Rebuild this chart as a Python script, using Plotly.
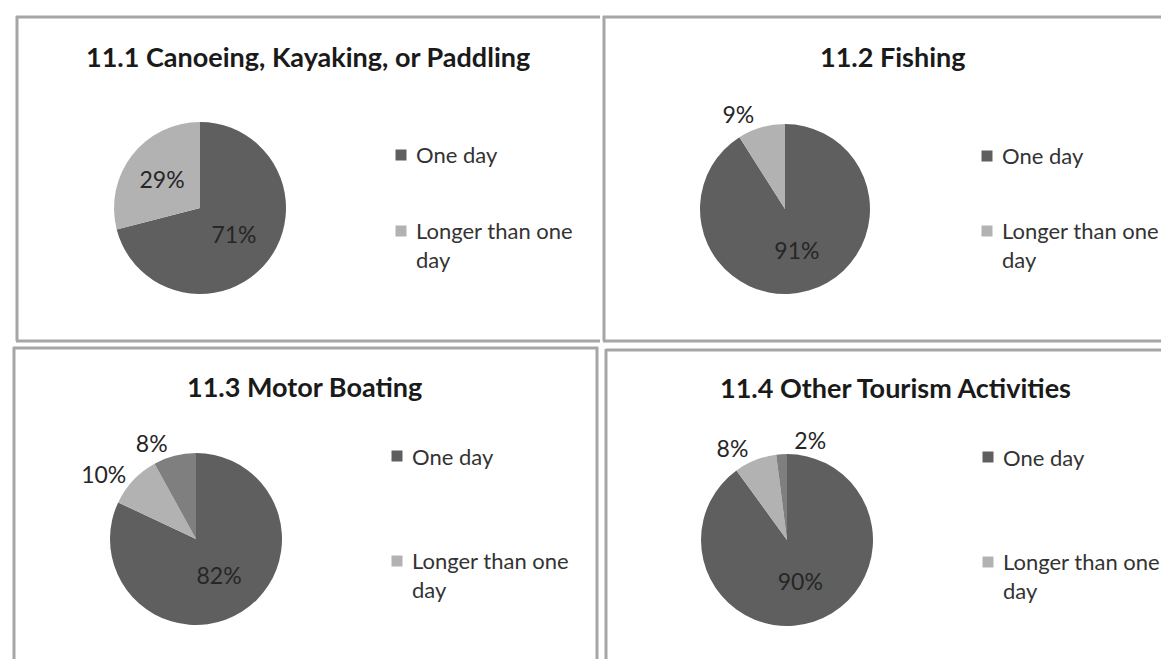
import plotly.graph_objects as go

# ---------------- data ----------------
categories = ["One day", "Longer than one day", "Other"]
titles = [
    "11.1 Canoeing, Kayaking, or Paddling",
    "11.2 Fishing",
    "11.3 Motor Boating",
    "11.4 Other Tourism Activities",
]
canoeing = [71, 29]
fishing = [91, 9]
motor_boating = [82, 10, 8]
other_tourism = [90, 8, 2]
legend_labels = ["One day", "Longer than one<br>day"]

# ---------------- styles ----------------
slice_colors = ["#5f5f5f", "#b2b2b2", "#7f7f7f"]
W, H = 1169, 659
FONT = "Lato, Carlito, Calibri, 'Open Sans', sans-serif"
BORDER = "#a6a6a6"
LABEL_SIZE = 23
LEGEND_SIZE = 22
TITLE_SIZE = 27


def px(x):
    return x / W


def py(y):
    return 1 - y / H


panels = [
    dict(values=canoeing, cx=192, cy=200, r=86, tx=300, ty=48,
         mx=393, lx=406, ly1=147, ly2=237,
         main=["inside", "inside"], extra=None),
    dict(values=fishing, cx=777, cy=201, r=85, tx=885, ty=48,
         mx=979, lx=992, ly1=148, ly2=237,
         main=["inside", "outside"], extra=None),
    dict(values=motor_boating, cx=188, cy=531, r=86, tx=296, ty=378,
         mx=389, lx=402, ly1=448, ly2=567,
         main=["inside", "outside", "outside"], extra=None),
    # the 2% label is placed by a second (transparent) label layer so that it
    # sits above the top of the pie, clear of the 8% label, as in the original
    dict(values=other_tourism, cx=779, cy=532, r=86, tx=887, ty=379,
         mx=980, lx=993, ly1=449, ly2=568,
         main=["inside", "outside", "none"],
         extra=["none", "none", "outside"]),
]

fig = go.Figure()
annotations = []
shapes = []

label_font = dict(family=FONT, size=LABEL_SIZE, color="#262626")

for i, p in enumerate(panels):
    n = len(p["values"])
    domain = dict(x=[px(p["cx"] - p["r"]), px(p["cx"] + p["r"])],
                  y=[py(p["cy"] + p["r"]), py(p["cy"] - p["r"])])
    fig.add_trace(go.Pie(
        labels=categories[:n],
        values=p["values"],
        sort=False,
        direction="clockwise",
        rotation=0,
        marker=dict(colors=slice_colors[:n], line=dict(width=0)),
        texttemplate="%{percent:.0%}",
        textposition=p["main"],
        insidetextorientation="horizontal",
        textfont=label_font,
        outsidetextfont=label_font,
        insidetextfont=label_font,
        domain=domain,
        showlegend=False,
        hoverinfo="label+percent",
    ))
    if p["extra"] is not None:
        fig.add_trace(go.Pie(
            labels=categories[:n],
            values=p["values"],
            sort=False,
            direction="clockwise",
            rotation=3.8,
            marker=dict(colors=["rgba(0,0,0,0)"] * n, line=dict(width=0)),
            texttemplate="%{percent:.0%}",
            textposition=p["extra"],
            textfont=label_font,
            outsidetextfont=label_font,
            domain=domain,
            showlegend=False,
            hoverinfo="skip",
        ))
    # title
    annotations.append(dict(
        text="<b>" + titles[i] + "</b>", x=px(p["tx"]), y=py(p["ty"]),
        xref="paper", yref="paper", xanchor="center", yanchor="middle",
        showarrow=False, font=dict(family=FONT, size=TITLE_SIZE, color="#1a1a1a"),
    ))
    # legend entries
    for k, (lab, ly) in enumerate(zip(legend_labels, [p["ly1"], p["ly2"]])):
        annotations.append(dict(
            text=lab, x=px(p["lx"]), y=py(ly), xref="paper", yref="paper",
            xanchor="left", yanchor="middle", align="left", showarrow=False,
            font=dict(family=FONT, size=LEGEND_SIZE, color="#333333"),
        ))
        my = p["ly1"] if k == 0 else p["ly2"] - 14
        s = 5.5
        shapes.append(dict(
            type="rect", xref="paper", yref="paper",
            x0=px(p["mx"] - s), x1=px(p["mx"] + s),
            y0=py(my + s), y1=py(my - s),
            fillcolor=slice_colors[k], line=dict(width=0),
        ))


# panel borders
def hline(x0, x1, y):
    shapes.append(dict(type="line", xref="paper", yref="paper",
                       x0=px(x0), x1=px(x1), y0=py(y), y1=py(y),
                       line=dict(color=BORDER, width=3)))


def vline(x, y0, y1):
    shapes.append(dict(type="line", xref="paper", yref="paper",
                       x0=px(x), x1=px(x), y0=py(y0), y1=py(y1),
                       line=dict(color=BORDER, width=3)))


# panel 1
hline(8, 592, 9); hline(8, 592, 333); vline(9, 8, 333)
# panel 2
hline(595, 1169, 9); hline(595, 1169, 333); vline(596, 8, 333)
# panel 3
hline(5, 590, 340); vline(6, 339, 659); vline(589, 339, 659)
# panel 4
hline(598, 1169, 342); vline(598, 341, 659)

fig.update_layout(
    width=W, height=H,
    margin=dict(l=0, r=0, t=0, b=0),
    paper_bgcolor="white", plot_bgcolor="white",
    annotations=annotations, shapes=shapes,
    font=dict(family=FONT),
)

fig.write_html("out.html")
